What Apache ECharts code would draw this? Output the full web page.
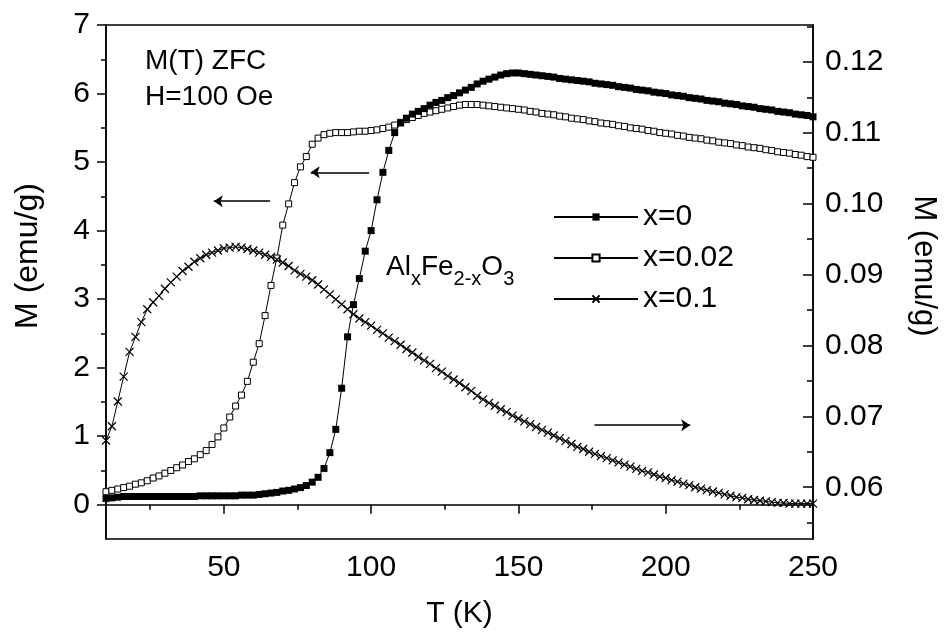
<!DOCTYPE html>
<html>
<head>
<meta charset="utf-8">
<script src="https://cdn.jsdelivr.net/npm/echarts@6/dist/echarts.min.js"></script>
<style>
html,body{margin:0;padding:0;background:#fff;}
#c{width:947px;height:634px;}
</style>
</head>
<body>
<div id="c"></div>
<script>
// Temperature grid (K)
const temps = [
 10,12,14,16,18,20,22,24,26,28,
 30,32,34,36,38,40,42,44,46,48,
 50,52,54,56,58,60,62,64,66,68,
 70,72,74,76,78,80,82,84,86,88,
 90,92,94,96,98,100,102,104,106,108,
 110,112,114,116,118,120,122,124,126,128,
 130,132,134,136,138,140,142,144,146,148,
 150,152,154,156,158,160,162,164,166,168,
 170,172,174,176,178,180,182,184,186,188,
 190,192,194,196,198,200,202,204,206,208,
 210,212,214,216,218,220,222,224,226,228,
 230,232,234,236,238,240,242,244,246,248,
 250
];
// x=0, left axis (emu/g)
const mX0 = [
 0.09,0.10,0.11,0.12,0.12,0.12,0.12,0.12,0.12,0.12,
 0.12,0.12,0.12,0.12,0.12,0.12,0.13,0.13,0.13,0.13,
 0.13,0.13,0.13,0.14,0.14,0.14,0.15,0.16,0.17,0.18,
 0.20,0.21,0.23,0.25,0.28,0.33,0.40,0.53,0.76,1.10,
 1.70,2.45,2.92,3.30,3.70,4.00,4.45,4.85,5.17,5.43,
 5.57,5.64,5.70,5.74,5.78,5.83,5.87,5.90,5.94,5.97,
 6.01,6.05,6.09,6.14,6.18,6.21,6.24,6.27,6.29,6.30,
 6.30,6.29,6.28,6.27,6.26,6.25,6.24,6.22,6.21,6.20,
 6.19,6.18,6.17,6.15,6.14,6.13,6.12,6.10,6.09,6.08,
 6.06,6.05,6.04,6.02,6.01,6.00,5.98,5.97,5.96,5.94,
 5.93,5.92,5.90,5.89,5.88,5.86,5.85,5.84,5.82,5.81,
 5.80,5.78,5.77,5.76,5.74,5.73,5.72,5.70,5.69,5.68,
 5.66
];
// x=0.02, left axis (emu/g)
const mX002 = [
 0.19,0.21,0.23,0.25,0.27,0.30,0.32,0.35,0.39,0.42,
 0.46,0.50,0.54,0.58,0.63,0.67,0.73,0.79,0.88,0.99,
 1.12,1.28,1.44,1.60,1.80,2.08,2.35,2.76,3.20,3.60,
 4.08,4.39,4.70,4.93,5.08,5.26,5.35,5.40,5.42,5.43,
 5.43,5.43,5.44,5.45,5.45,5.46,5.47,5.49,5.51,5.54,
 5.58,5.62,5.65,5.68,5.71,5.73,5.75,5.77,5.79,5.81,
 5.83,5.84,5.84,5.84,5.83,5.82,5.81,5.80,5.79,5.78,
 5.77,5.76,5.74,5.73,5.71,5.70,5.69,5.67,5.66,5.64,
 5.63,5.62,5.60,5.59,5.57,5.56,5.55,5.53,5.52,5.50,
 5.49,5.48,5.46,5.45,5.43,5.42,5.41,5.39,5.38,5.36,
 5.35,5.34,5.32,5.31,5.29,5.28,5.27,5.25,5.24,5.22,
 5.21,5.20,5.18,5.17,5.15,5.14,5.13,5.11,5.10,5.08,
 5.07
];
// x=0.1, right axis (emu/g)
const mX01 = [
 0.0666,0.0686,0.0721,0.0756,0.0791,0.0812,0.0833,0.0851,0.0861,0.0870,
 0.0880,0.0889,0.0897,0.0905,0.0911,0.0918,0.0923,0.0928,0.0931,0.0934,
 0.0937,0.0938,0.0939,0.0938,0.0936,0.0934,0.0931,0.0928,0.0925,0.0921,
 0.0917,0.0912,0.0906,0.0901,0.0897,0.0892,0.0886,0.0879,0.0872,0.0865,
 0.0858,0.0851,0.0844,0.0838,0.0833,0.0828,0.0822,0.0817,0.0811,0.0806,
 0.0801,0.0795,0.0790,0.0784,0.0779,0.0774,0.0768,0.0763,0.0757,0.0752,
 0.0747,0.0741,0.0736,0.0729,0.0724,0.0719,0.0715,0.0710,0.0706,0.0701,
 0.0697,0.0693,0.0689,0.0685,0.0681,0.0677,0.0673,0.0669,0.0665,0.0661,
 0.0657,0.0654,0.0650,0.0647,0.0644,0.0641,0.0638,0.0635,0.0632,0.0629,
 0.0626,0.0623,0.0621,0.0618,0.0615,0.0613,0.0610,0.0608,0.0605,0.0603,
 0.0600,0.0598,0.0596,0.0594,0.0592,0.0590,0.0588,0.0586,0.0585,0.0583,
 0.0582,0.0581,0.0580,0.0579,0.0578,0.0578,0.0577,0.0577,0.0577,0.0577,
 0.0577
];
const seriesNames = ['x=0', 'x=0.02', 'x=0.1'];
// Tick values
const xMajorTicks = [50, 100, 150, 200, 250];
const xMinorTicks = [25, 75, 125, 175, 225];
const yLeftMajor = [0, 1, 2, 3, 4, 5, 6, 7];
const yLeftMinor = [0.5, 1.5, 2.5, 3.5, 4.5, 5.5, 6.5];
const yRightMajor = [0.06, 0.07, 0.08, 0.09, 0.10, 0.11, 0.12];
const yRightMinor = [0.055, 0.065, 0.075, 0.085, 0.095, 0.105, 0.115, 0.125];
// Arrow annotations [T start, T end(head), M level] in left-axis data units
const arrowLeft1 = [65.7, 46.6, 4.43];
const arrowLeft2 = [99.3, 79.5, 4.85];
const arrowRight = [175.8, 208.3, 1.16];

const FONT = 'Liberation Sans';
const black = '#000';
const pair = (vals) => temps.map((t, i) => [t, vals[i]]);
const arrowData = (a) => [[
  {coord: [a[0], a[2]], symbol: 'none'},
  {coord: [a[1], a[2]], symbol: 'arrow', symbolSize: 9}
]];

const chart = echarts.init(document.getElementById('c'), null, {renderer: 'canvas'});
const axisLineStyle = {color: black, width: 1.5};
const labelStyle = {color: black, fontSize: 30, fontFamily: FONT};

const option = {
  animation: false,
  backgroundColor: '#fff',
  grid: {left: 106, right: 128, top: 25, bottom: 93, show: true, borderColor: black, borderWidth: 1.5, containLabel: false},
  legend: {
    orient: 'vertical', left: 548, top: 197, itemGap: 11,
    itemWidth: 84, itemHeight: 9,
    textStyle: {fontSize: 30, fontFamily: FONT, color: black},
    data: seriesNames, selectedMode: false
  },
  xAxis: [
    {type: 'value', min: 10, max: 250, position: 'bottom',
     axisLine: {lineStyle: axisLineStyle},
     axisTick: {customValues: xMajorTicks, length: 9, lineStyle: axisLineStyle},
     axisLabel: {customValues: xMajorTicks, margin: 14, ...labelStyle},
     splitLine: {show: false},
     name: 'T (K)', nameLocation: 'middle', nameGap: 60,
     nameTextStyle: {fontSize: 30, fontFamily: FONT, color: black}},
    {type: 'value', min: 10, max: 250, position: 'bottom',
     axisLine: {show: false},
     axisTick: {customValues: xMinorTicks, length: 5, lineStyle: axisLineStyle},
     axisLabel: {show: false}, splitLine: {show: false}}
  ],
  yAxis: [
    {type: 'value', min: -0.5, max: 7, position: 'left',
     axisLine: {show: true, lineStyle: axisLineStyle},
     axisTick: {show: true, customValues: yLeftMajor, length: 9, lineStyle: axisLineStyle},
     axisLabel: {customValues: yLeftMajor, margin: 16, ...labelStyle},
     splitLine: {show: false},
     name: 'M (emu/g)', nameLocation: 'middle', nameGap: 62,
     nameTextStyle: {fontSize: 32, fontFamily: FONT, color: black, padding: [0, 0, 0, 52]}},
    {type: 'value', min: 0.0527, max: 0.1252, position: 'right',
     axisLine: {show: true, lineStyle: axisLineStyle},
     axisTick: {show: true, inside: true, customValues: yRightMajor, length: 10, lineStyle: axisLineStyle},
     axisLabel: {customValues: yRightMajor, margin: 12, formatter: (v) => v.toFixed(2), ...labelStyle},
     splitLine: {show: false},
     name: 'M (emu/g)', nameLocation: 'middle', nameGap: 95, nameRotate: -90,
     nameTextStyle: {fontSize: 31, fontFamily: FONT, color: black, padding: [0, 32, 0, 0]}},
    {type: 'value', min: -0.5, max: 7, position: 'left',
     axisLine: {show: false},
     axisTick: {show: true, customValues: yLeftMinor, length: 5, lineStyle: axisLineStyle},
     axisLabel: {show: false}, splitLine: {show: false}},
    {type: 'value', min: 0.0527, max: 0.1252, position: 'right',
     axisLine: {show: false},
     axisTick: {show: true, inside: true, customValues: yRightMinor, length: 6, lineStyle: axisLineStyle},
     axisLabel: {show: false}, splitLine: {show: false}}
  ],
  graphic: [
    {type: 'text', left: 145, top: 47, silent: true,
     style: {text: 'M(T) ZFC', fontSize: 28, fontFamily: FONT, fill: black}},
    {type: 'text', left: 145, top: 83, silent: true,
     style: {text: 'H=100 Oe', fontSize: 28, fontFamily: FONT, fill: black}},
    {type: 'text', left: 386, top: 253, silent: true,
     style: {
       text: '{n|Al}{s|x}{n|Fe}{s|2-x}{n|O}{s|3}',
       rich: {
         n: {fontSize: 28, fontFamily: FONT, fill: black, lineHeight: 30, verticalAlign: 'top'},
         s: {fontSize: 20, fontFamily: FONT, fill: black, lineHeight: 20, verticalAlign: 'top', padding: [16, 0, 0, 0]}
       }
     }}
  ],
  series: [
    {name: 'x=0', type: 'line', xAxisIndex: 0, yAxisIndex: 0, data: pair(mX0),
     symbol: 'rect', symbolSize: 7, showSymbol: true,
     itemStyle: {color: black},
     lineStyle: {color: black, width: 1},
     emphasis: {disabled: true}, z: 3,
     markLine: {
       silent: true, symbol: ['none', 'arrow'], symbolSize: 9,
       label: {show: false},
       lineStyle: {color: black, width: 1.5, type: 'solid'},
       emphasis: {disabled: true},
       data: [...arrowData(arrowLeft1), ...arrowData(arrowLeft2), ...arrowData(arrowRight)]
     }},
    {name: 'x=0.02', type: 'line', xAxisIndex: 0, yAxisIndex: 0, data: pair(mX002),
     symbol: 'rect', symbolSize: 6, showSymbol: true,
     itemStyle: {color: '#fff', borderColor: black, borderWidth: 1},
     lineStyle: {color: black, width: 1},
     emphasis: {disabled: true}, z: 2},
    {name: 'x=0.1', type: 'line', xAxisIndex: 0, yAxisIndex: 1, data: pair(mX01),
     symbol: 'path://M0,0L10,10M10,0L0,10', symbolSize: 8, showSymbol: true,
     itemStyle: {color: black, borderColor: black, borderWidth: 1.2},
     lineStyle: {color: black, width: 1},
     emphasis: {disabled: true}, z: 2}
  ]
};
chart.setOption(option);
</script>
</body>
</html>
